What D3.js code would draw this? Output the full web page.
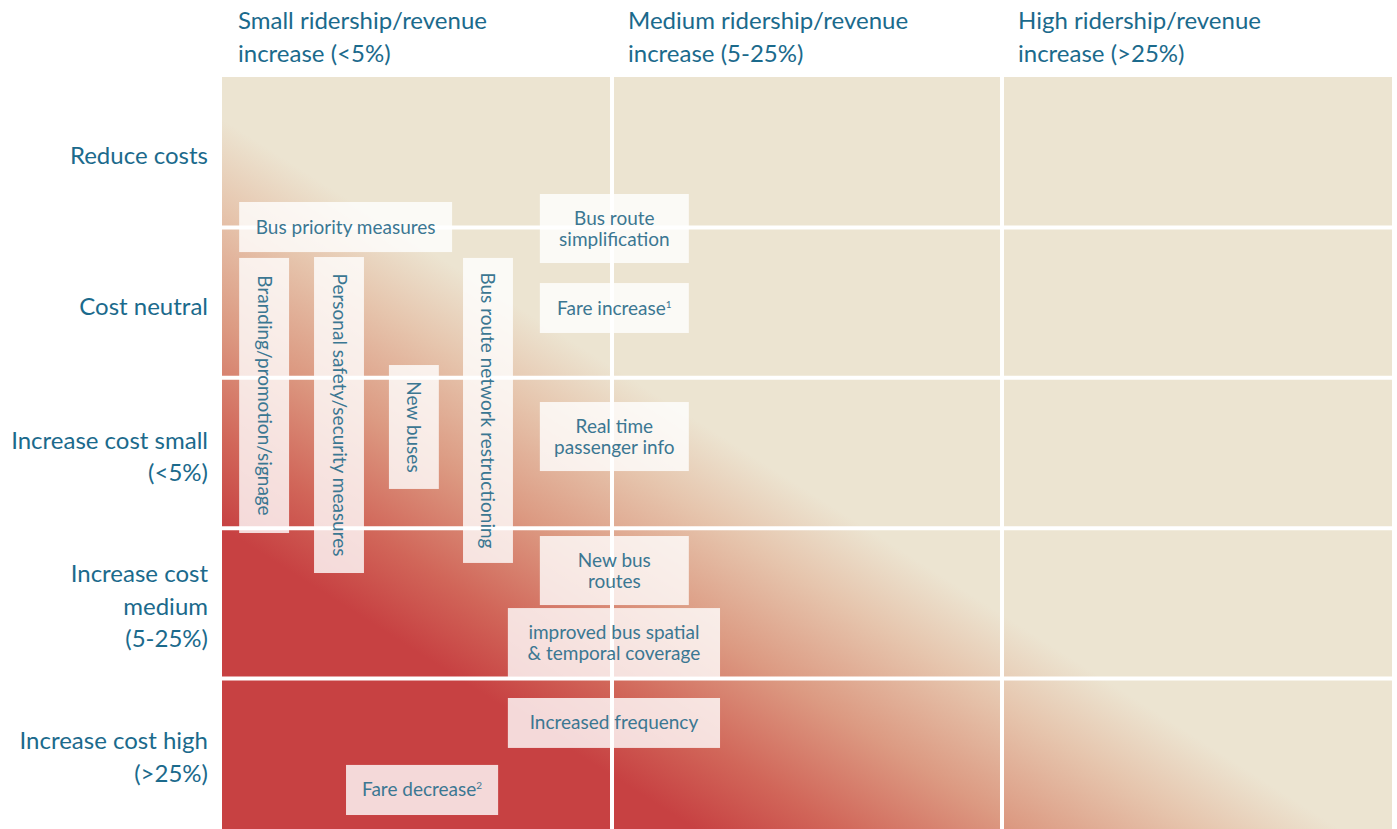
<!DOCTYPE html>
<html>
<head>
    <title>Bus measures matrix</title>
    <script src="https://cdn.jsdelivr.net/npm/d3@7"></script>
    <style>
        body {
            margin: 0;
            padding: 0;
            background-color: white;
            font-family: "Lato", "Open Sans", sans-serif;
        }

        .head-label {
            font-size: 24px;
            fill: #1b6a8c;
        }

        .row-label {
            font-size: 24px;
            fill: #1b6a8c;
            text-anchor: end;
        }

        .box-label {
            font-size: 19px;
            fill: #3b7792;
            text-anchor: middle;
        }
    </style>
</head>
<body>
    <div id="chart"></div>

    <script>
        // column headers (one entry per line)
        const columns = [
            ["Small ridership/revenue", "increase (<5%)"],
            ["Medium ridership/revenue", "increase (5-25%)"],
            ["High ridership/revenue", "increase (>25%)"]
        ];

        // row labels
        const rows = [
            ["Reduce costs"],
            ["Cost neutral"],
            ["Increase cost small", "(<5%)"],
            ["Increase cost", "medium", "(5-25%)"],
            ["Increase cost high", "(>25%)"]
        ];

        // measures, placed in grid units (column / row)
        const measureNames = [
            ["Bus priority measures"],
            ["Branding/promotion/signage"],
            ["Personal safety/security measures"],
            ["New buses"],
            ["Bus route network restructioning"],
            ["Bus route", "simplification"],
            ["Fare increase|1"],
            ["Real time", "passenger info"],
            ["New bus", "routes"],
            ["improved bus spatial", "& temporal coverage"],
            ["Increased frequency"],
            ["Fare decrease|2"]
        ];
        const measureX0 = [0.044, 0.044, 0.236, 0.428, 0.618, 0.815, 0.815, 0.815, 0.815, 0.733, 0.733, 0.318];
        const measureX1 = [0.590, 0.172, 0.364, 0.556, 0.746, 1.197, 1.197, 1.197, 1.197, 1.277, 1.277, 0.708];
        const measureY0 = [0.831, 1.203, 1.197, 1.915, 1.203, 0.778, 1.370, 2.161, 3.052, 3.531, 4.129, 4.574];
        const measureY1 = [1.164, 3.032, 3.298, 2.739, 3.231, 1.237, 1.702, 2.620, 3.511, 3.989, 4.461, 4.907];
        const measureVertical = [false, true, true, true, true, false, false, false, false, false, false, false];

        // diagonal background: red (costly, low gain) -> beige
        const gradientOffsets = [0, 0.22, 0.5, 0.78, 1];
        const gradientColors = ["#c74142", "#d16659", "#dc9a82", "#e6c5ad", "#ece4d1"];

        const W = 1397, H = 829;
        const svg = d3.select("#chart").append("svg")
            .attr("width", W)
            .attr("height", H);

        const x = d3.scaleLinear().domain([0, columns.length]).range([222, 1392]);
        const y = d3.scaleLinear().domain([0, rows.length]).range([77, 829]);

        const defs = svg.append("defs");
        const grad = defs.append("linearGradient")
            .attr("id", "bg")
            .attr("gradientUnits", "userSpaceOnUse")
            .attr("x1", x(0)).attr("y1", y(3.0))
            .attr("x2", x(0.475)).attr("y2", y(1.06));
        grad.selectAll("stop")
            .data(gradientOffsets)
            .enter()
            .append("stop")
            .attr("offset", d => d)
            .attr("stop-color", (d, i) => gradientColors[i]);

        svg.append("rect")
            .attr("x", x(0))
            .attr("y", y(0))
            .attr("width", x(columns.length) - x(0))
            .attr("height", y(rows.length) - y(0))
            .attr("fill", "url(#bg)");

        // white grid lines between cells
        svg.selectAll(".vline")
            .data(d3.range(1, columns.length))
            .enter()
            .append("line")
            .attr("x1", d => x(d)).attr("x2", d => x(d))
            .attr("y1", y(0)).attr("y2", y(rows.length))
            .attr("stroke", "white")
            .attr("stroke-width", 4);

        svg.selectAll(".hline")
            .data(d3.range(1, rows.length))
            .enter()
            .append("line")
            .attr("x1", x(0)).attr("x2", x(columns.length))
            .attr("y1", d => y(d)).attr("y2", d => y(d))
            .attr("stroke", "white")
            .attr("stroke-width", 4);

        // column headers
        svg.selectAll(".head-label")
            .data(columns)
            .enter()
            .append("text")
            .attr("class", "head-label")
            .attr("x", (d, i) => x(i) + 16)
            .attr("y", 29)
            .selectAll("tspan")
            .data(d => d)
            .enter()
            .append("tspan")
            .attr("x", function () { return d3.select(this.parentNode).attr("x"); })
            .attr("dy", (d, i) => i === 0 ? 0 : 33)
            .text(d => d);

        // row labels, vertically centred in their row
        svg.selectAll(".row-label")
            .data(rows)
            .enter()
            .append("text")
            .attr("class", "row-label")
            .attr("x", 208)
            .attr("y", (d, i) => y(i + 0.5) + 12 - (d.length - 1) * 16.5)
            .selectAll("tspan")
            .data(d => d)
            .enter()
            .append("tspan")
            .attr("x", 208)
            .attr("dy", (d, i) => i === 0 ? 0 : 32.5)
            .text(d => d);

        // measure boxes
        const boxes = svg.selectAll(".measure")
            .data(measureNames)
            .enter()
            .append("g")
            .attr("class", "measure");

        boxes.append("rect")
            .attr("x", (d, i) => x(measureX0[i]))
            .attr("y", (d, i) => y(measureY0[i]))
            .attr("width", (d, i) => x(measureX1[i]) - x(measureX0[i]))
            .attr("height", (d, i) => y(measureY1[i]) - y(measureY0[i]))
            .attr("fill", "white")
            .attr("fill-opacity", 0.8);

        boxes.each(function (d, i) {
            const cx = (x(measureX0[i]) + x(measureX1[i])) / 2;
            const cy = (y(measureY0[i]) + y(measureY1[i])) / 2;
            const g = d3.select(this).append("g")
                .attr("transform", `translate(${cx},${cy})` + (measureVertical[i] ? " rotate(90)" : ""));
            const t = g.append("text")
                .attr("class", "box-label")
                .attr("y", 6.5 - (d.length - 1) * 10.5);
            d.forEach((line, k) => {
                const parts = line.split("|");
                t.append("tspan")
                    .attr("x", 0)
                    .attr("dy", k === 0 ? 0 : 21)
                    .text(parts[0]);
                if (parts[1]) {
                    t.append("tspan")
                        .attr("dy", -7)
                        .attr("font-size", "10px")
                        .text(parts[1]);
                }
            });
        });
    </script>
</body>
</html>
